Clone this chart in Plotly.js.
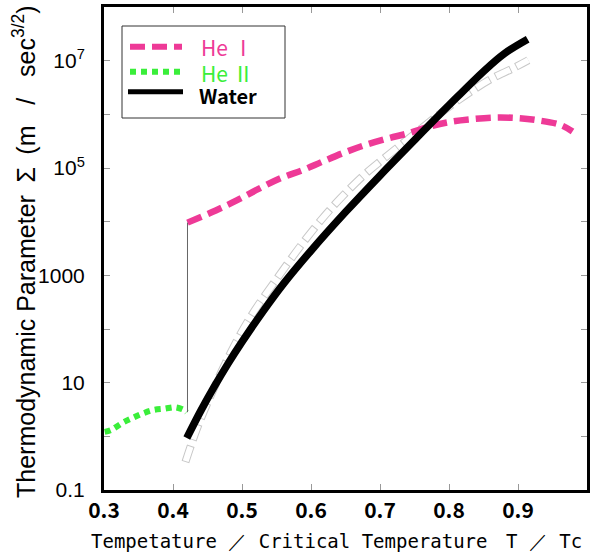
<!DOCTYPE html>
<html>
<head>
<meta charset="utf-8">
<script src="https://cdn.plot.ly/plotly-3.0.1.min.js"></script>
<style>
  html, body { margin: 0; padding: 0; background: #fff; }
  #chart { width: 590px; height: 554px; }
</style>
</head>
<body>
<div id="chart"></div>
<script>
// Reduced temperature T/Tc and thermodynamic parameter Sigma (m / sec^3/2)
const heI_T     = [0.421, 0.462, 0.493, 0.524, 0.556, 0.588, 0.617, 0.647, 0.679, 0.711, 0.742, 0.771, 0.802, 0.834, 0.868, 0.899, 0.928, 0.962, 0.979];
const heI_sigma = [9.6e3, 1.62e4, 2.51e4, 4.07e4, 6.46e4, 9.12e4, 1.32e5, 1.91e5, 2.69e5, 3.55e5, 4.47e5, 5.89e5, 7.24e5, 8.13e5, 8.71e5, 8.51e5, 7.76e5, 6.31e5, 4.79e5];

const heII_T     = [0.301, 0.310, 0.327, 0.342, 0.357, 0.372, 0.388, 0.403, 0.416, 0.420];
const heII_sigma = [1.21, 1.31, 1.79, 2.22, 2.69, 3.10, 3.27, 3.48, 3.09, 2.82];

const water_T     = [0.420, 0.440, 0.460, 0.480, 0.500, 0.530, 0.560, 0.600, 0.650, 0.700, 0.750, 0.800, 0.850, 0.880, 0.914];
const water_sigma = [0.93, 2.95, 8.5, 22.9, 57.5, 209, 692, 2880, 1.51e4, 7.24e4, 3.31e5, 1.48e6, 6.31e6, 1.35e7, 2.51e7];

// second water estimate, drawn as hollow grey dashes
const water2_T     = [0.418, 0.434, 0.455, 0.484, 0.513, 0.549, 0.585, 0.614, 0.643, 0.676, 0.705, 0.737, 0.770, 0.798, 0.831, 0.861, 0.893, 0.915];
const water2_sigma = [0.331, 1.32, 5.89, 37.2, 174, 813, 3550, 1.05e4, 2.75e4, 7.24e4, 1.48e5, 3.16e5, 6.92e5, 1.32e6, 2.63e6, 4.57e6, 7.24e6, 1.02e7];

const xTicks = [0.3, 0.4, 0.5, 0.6, 0.7, 0.8, 0.9, 1.0];
const xTickText = ['0.3', '0.4', '0.5', '0.6', '0.7', '0.8', '0.9', '1'];
const yTicks = [0.1, 1, 10, 100, 1000, 1e4, 1e5, 1e6, 1e7, 1e8];
const yTickText = ['0.1', '', '10', '', '1000', '', '10<sup>5</sup>', '', '10<sup>7</sup>', ''];

const PINK = '#EE3A97';
const GREEN = '#3AEE3A';

const traces = [
  { x: water2_T, y: water2_sigma, mode: 'lines', hoverinfo: 'skip',
    line: { color: '#c8c8c8', width: 8, dash: '17px,6px', shape: 'spline' } },
  { x: water2_T, y: water2_sigma, mode: 'lines', hoverinfo: 'skip',
    line: { color: '#ffffff', width: 6, dash: '0px,1px,15px,7px', shape: 'spline' } },
  { x: heI_T, y: heI_sigma, mode: 'lines', name: 'He Ⅰ',
    line: { color: PINK, width: 6.5, dash: '15px,7px', shape: 'spline' } },
  { x: heII_T, y: heII_sigma, mode: 'lines', name: 'He Ⅱ',
    line: { color: GREEN, width: 6, dash: '6px,5px', shape: 'spline' } },
  // lambda transition: He II end joined to He I start
  { x: [heI_T[0], heI_T[0]], y: [heII_sigma[heII_sigma.length - 1], heI_sigma[0]], mode: 'lines',
    hoverinfo: 'skip', line: { color: '#666666', width: 1 } },
  { x: water_T, y: water_sigma, mode: 'lines', name: 'Water',
    line: { color: '#000000', width: 7.5, shape: 'spline' } }
];

// pixel -> paper helpers for the plot area (104..587 x 7..490)
function px2x(p) { return (p - 104) / 483; }
function px2y(p) { return (490 - p) / 483; }

const shapes = [
  { type: 'rect', xref: 'paper', yref: 'paper', x0: px2x(122), x1: px2x(285), y0: px2y(118), y1: px2y(26),
    line: { color: '#333', width: 1 }, fillcolor: '#fff' },
  { type: 'line', xref: 'paper', yref: 'paper', x0: px2x(130), x1: px2x(182), y0: px2y(46.7), y1: px2y(46.7),
    line: { color: PINK, width: 6, dash: '15px,7px' } },
  { type: 'line', xref: 'paper', yref: 'paper', x0: px2x(130), x1: px2x(181), y0: px2y(71.7), y1: px2y(71.7),
    line: { color: GREEN, width: 6, dash: '6px,5px' } },
  { type: 'line', xref: 'paper', yref: 'paper', x0: px2x(128), x1: px2x(183), y0: px2y(91.7), y1: px2y(91.7),
    line: { color: '#000', width: 5 } }
];

const legFont = { family: '"Noto Sans CJK JP", sans-serif', size: 21 };
const titleFontX = { family: '"DejaVu Sans Mono", monospace', size: 19, color: '#000' };
const titleFontY = { family: '"Liberation Sans", Arial, sans-serif', size: 25, color: '#000' };
const NB = '\u00a0';
const annotations = [
  { xref: 'paper', yref: 'paper', x: px2x(199), y: px2y(47.5), xanchor: 'left', yanchor: 'middle', showarrow: false,
    height: 20, text: 'He Ⅰ', font: Object.assign({}, legFont, { color: PINK }) },
  { xref: 'paper', yref: 'paper', x: px2x(199), y: px2y(73), xanchor: 'left', yanchor: 'middle', showarrow: false,
    height: 20, text: 'He Ⅱ', font: Object.assign({}, legFont, { color: GREEN }) },
  { xref: 'paper', yref: 'paper', x: px2x(197), y: px2y(94.5), xanchor: 'left', yanchor: 'middle', showarrow: false,
    height: 20, text: 'Water', font: Object.assign({}, legFont, { color: '#000', weight: 'bold', size: 20 }) },
  // x axis title
  { xref: 'paper', yref: 'paper', x: px2x(89), y: px2y(541), xanchor: 'left', yanchor: 'middle', showarrow: false,
    text: 'Tempetature' + NB + '／' + NB + 'Critical Temperature', font: titleFontX },
  { xref: 'paper', yref: 'paper', x: px2x(584), y: px2y(541), xanchor: 'right', yanchor: 'middle', showarrow: false,
    text: 'T\u2009／\u2009Tc', font: titleFontX },
  // y axis title
  { xref: 'paper', yref: 'paper', x: px2x(24), y: px2y(252), xanchor: 'center', yanchor: 'middle', showarrow: false,
    textangle: -90,
    text: 'Thermodynamic Parameter\u2002Σ\u2002(m' + NB + NB + NB + '/' + NB + NB + NB + 'sec<sup>3/2</sup>)',
    font: titleFontY }
];

const layout = {
  width: 590, height: 554,
  margin: { l: 104, r: 3, t: 7, b: 64 },
  paper_bgcolor: '#fff', plot_bgcolor: '#fff',
  showlegend: false,
  xaxis: {
    range: [0.3, 1.0], tickvals: xTicks, ticktext: xTickText,
    ticks: 'inside', ticklen: 6, tickwidth: 1, tickcolor: '#999',
    showline: true, linecolor: '#000', linewidth: 3, mirror: 'ticks',
    showgrid: false, zeroline: false, ticklabelstandoff: 0,
    tickfont: { family: '"Noto Sans CJK JP", sans-serif', size: 21, color: '#000', weight: 'bold' }
  },
  yaxis: {
    type: 'log', range: [-1, 8], tickvals: yTicks, ticktext: yTickText,
    ticks: 'inside', ticklen: 6, tickwidth: 1, tickcolor: '#999',
    showline: true, linecolor: '#000', linewidth: 3, mirror: 'ticks',
    showgrid: false, zeroline: false, ticklabelstandoff: 12,
    tickfont: { family: '"Liberation Sans", Arial, sans-serif', size: 21, color: '#000' }
  },
  shapes: shapes,
  annotations: annotations
};

Plotly.newPlot('chart', traces, layout, { staticPlot: true, displayModeBar: false });
</script>
</body>
</html>
